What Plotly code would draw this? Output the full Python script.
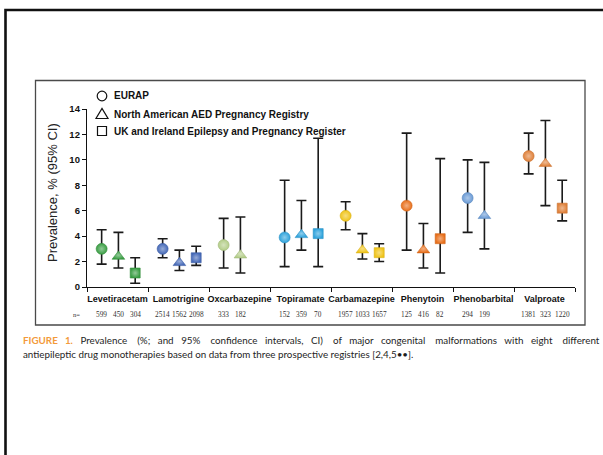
import plotly.graph_objects as go

# ---------------- data ----------------
drugs = ["Levetiracetam", "Lamotrigine", "Oxcarbazepine", "Topiramate",
         "Carbamazepine", "Phenytoin", "Phenobarbital", "Valproate"]

registries = ["EURAP", "North American AED Pregnancy Registry",
              "UK and Ireland Epilepsy and Pregnancy Register"]

eurap_prev = [3.0, 3.0, 3.3, 3.9, 5.6, 6.4, 7.0, 10.3]
eurap_lo = [1.8, 2.3, 1.5, 1.6, 4.5, 2.9, 4.3, 8.9]
eurap_hi = [4.5, 3.8, 5.4, 8.4, 6.7, 12.1, 10.0, 12.1]
eurap_n = [599, 2514, 333, 152, 1957, 125, 294, 1381]

naapr_prev = [2.4, 1.9, 2.5, 4.1, 2.9, 2.9, 5.6, 9.7]
naapr_lo = [1.5, 1.3, 1.1, 2.9, 2.2, 1.5, 3.0, 6.4]
naapr_hi = [4.3, 2.9, 5.5, 6.8, 4.2, 5.0, 9.8, 13.1]
naapr_n = [450, 1562, 182, 359, 1033, 416, 199, 323]

ukire_prev = [1.1, 2.3, None, 4.2, 2.7, 3.8, None, 6.2]
ukire_lo = [0.3, 1.7, None, 1.6, 2.0, 1.1, None, 5.2]
ukire_hi = [2.3, 3.2, None, 11.7, 3.4, 10.1, None, 8.4]
ukire_n = [304, 2098, None, 70, 1657, 82, None, 1220]

y_ticks = [0, 2, 4, 6, 8, 10, 12, 14]

caption_label = "FIGURE 1."
caption_line1 = ("Prevalence (%; and 95% confidence intervals, CI) of major congenital "
                 "malformations with eight different")
caption_line2 = ("antiepileptic drug monotherapies based on data from three prospective "
                 "registries [2,4,5\u2022\u2022].")

# ---------------- styles ----------------
drug_colors = ["#3a9e44", "#4569b8", "#b3cd88", "#2fa3dc",
               "#f0c419", "#e86f1a", "#6b9bd6", "#e0813a"]
symbols = ["circle", "triangle-up", "square"]
sizes = [11, 11, 10]
offsets = [-0.26, 0.015, 0.29]


def lighten(hex_color, f):
    h = hex_color.lstrip("#")
    r, g, b = (int(h[i:i + 2], 16) for i in (0, 2, 4))
    r = int(r + (255 - r) * f)
    g = int(g + (255 - g) * f)
    b = int(b + (255 - b) * f)
    return "#%02x%02x%02x" % (r, g, b)


def darken(hex_color, f):
    h = hex_color.lstrip("#")
    r, g, b = (int(h[i:i + 2], 16) for i in (0, 2, 4))
    return "#%02x%02x%02x" % (int(r * (1 - f)), int(g * (1 - f)), int(b * (1 - f)))


W, H = 603, 455
ML, MR, MT, MB = 87, 28, 109, 168
PW, PH = W - ML - MR, H - MT - MB


def xp(px):
    return (px - ML) / PW


def yp(py):
    return (H - MB - py) / PH


fig = go.Figure()

series = [(eurap_prev, eurap_lo, eurap_hi, eurap_n),
          (naapr_prev, naapr_lo, naapr_hi, naapr_n),
          (ukire_prev, ukire_lo, ukire_hi, ukire_n)]

annotations = []
for k, (prev, lo, hi, nn) in enumerate(series):
    xs, ys, ep, em, cols, grads, lines = [], [], [], [], [], [], []
    for i, v in enumerate(prev):
        if v is None:
            continue
        xs.append(i + offsets[k])
        ys.append(v)
        ep.append(hi[i] - v)
        em.append(v - lo[i])
        cols.append(drug_colors[i])
        grads.append(lighten(drug_colors[i], 0.45))
        lines.append(darken(drug_colors[i], 0.1))
        annotations.append(dict(x=i + offsets[k], xref="x", y=yp(314), yref="paper",
                                xanchor="center", yanchor="middle",
                                text=str(nn[i]), showarrow=False,
                                font=dict(family="Liberation Serif", size=7.3, color="#333")))
    fig.add_trace(go.Scatter(
        x=xs, y=ys, mode="markers", name=registries[k], showlegend=False,
        marker=dict(symbol=symbols[k], size=sizes[k], color=cols,
                    gradient=dict(type="radial", color=grads),
                    line=dict(width=0.6, color=lines)),
        error_y=dict(type="data", symmetric=False, array=ep, arrayminus=em,
                     color="#1a1a1a", thickness=1.6, width=5),
    ))

# n= label
annotations.append(dict(x=xp(76), xref="paper", y=yp(314), yref="paper", text="n=",
                        xanchor="center", yanchor="middle",
                        showarrow=False, font=dict(family="Liberation Serif", size=6.5, color="#333")))

# y-axis title
annotations.append(dict(x=xp(52), xref="paper", y=yp(193), yref="paper",
                        xanchor="center", yanchor="middle",
                        text="Prevalence, % (95% CI)", textangle=-90, showarrow=False,
                        font=dict(family="Liberation Sans", size=13, color="#222")))

# legend: symbol outlines drawn as shapes, texts as annotations
leg_y = [96, 114, 131]
leg_x = 102
for t, y in zip(registries, leg_y):
    annotations.append(dict(x=xp(112), xref="paper", y=yp(y), yref="paper", text=t,
                            showarrow=False, xanchor="left", yanchor="middle",
                            font=dict(family="Liberation Sans", size=10, color="#111",
                                      weight="bold")))

leg_line = dict(color="#111", width=1.2)
shapes = [
    # outer frame
    dict(type="rect", xref="paper", yref="paper", x0=xp(5.5), x1=xp(660),
         y0=yp(10), y1=yp(520), line=dict(color="#111", width=2.6)),
    # inner box
    dict(type="rect", xref="paper", yref="paper", x0=xp(35.5), x1=xp(585),
         y0=yp(80.5), y1=yp(325), line=dict(color="#4a4a4a", width=1.3)),
    # legend glyphs
    dict(type="circle", xref="paper", yref="paper",
         x0=xp(leg_x - 4.8), x1=xp(leg_x + 4.8), y0=yp(leg_y[0] - 4.8), y1=yp(leg_y[0] + 4.8),
         line=leg_line),
    dict(type="path", xref="paper", yref="paper",
         path="M %f,%f L %f,%f L %f,%f Z" % (xp(leg_x - 6), yp(leg_y[1] + 4.5),
                                             xp(leg_x + 6), yp(leg_y[1] + 4.5),
                                             xp(leg_x), yp(leg_y[1] - 5.5)),
         line=leg_line),
    dict(type="rect", xref="paper", yref="paper",
         x0=xp(leg_x - 4.5), x1=xp(leg_x + 4.5), y0=yp(leg_y[2] - 4.5), y1=yp(leg_y[2] + 4.5),
         line=leg_line),
]

# caption (first line stretched like the justified original)
words1 = [caption_label.split(" ")[0], caption_label.split(" ")[1]] + caption_line1.split(" ")
parts = []
for i, w in enumerate(words1):
    if i == 0:
        parts.append("<span style='color:#F39A3A'><b>" + w)
    elif i == 1:
        parts.append(w + "</b></span>")
    else:
        parts.append(w)
line1 = ""
for i, p in enumerate(parts):
    if i > 0:
        line1 += " " + "\u00a0" * (3 if i % 3 == 0 else 2)
    line1 += p

annotations.append(dict(
    x=xp(21), xref="paper", y=yp(340), yref="paper", xanchor="left", yanchor="middle",
    showarrow=False, align="left", text=line1,
    font=dict(family="Lato", size=9.8, color="#1e1e1e")))
annotations.append(dict(
    x=xp(21), xref="paper", y=yp(354), yref="paper", xanchor="left", yanchor="middle",
    showarrow=False, align="left", text=caption_line2,
    font=dict(family="Lato", size=9.8, color="#1e1e1e")))

fig.update_layout(
    width=W, height=H,
    margin=dict(l=ML, r=MR, t=MT, b=MB, pad=0),
    paper_bgcolor="white", plot_bgcolor="white",
    showlegend=False,
    annotations=annotations,
    shapes=shapes,
    xaxis=dict(range=[-0.5, 7.5], showgrid=False, zeroline=False,
               showline=True, linecolor="#111", linewidth=1.3,
               tickmode="array", tickvals=list(range(len(drugs))), ticktext=drugs,
               ticks="", ticklabelstandoff=3,
               tickfont=dict(family="Liberation Sans", size=9, color="#111", weight="bold"),
               minor=dict(tickmode="array", tickvals=[i - 0.5 for i in range(len(drugs) + 1)],
                          ticks="outside", ticklen=4, tickwidth=1.3, tickcolor="#111",
                          showgrid=False)),
    yaxis=dict(range=[0, 14], showgrid=False, zeroline=False,
               showline=True, linecolor="#111", linewidth=1.3,
               tickmode="array", tickvals=y_ticks, ticks="outside", ticklen=4,
               tickwidth=1.3, tickcolor="#111",
               tickfont=dict(family="Liberation Sans", size=9.5, color="#111", weight="bold")),
)

fig.write_html("out.html", config={"displayModeBar": False},
               post_script="document.body.style.margin='0';document.body.style.overflow='hidden';")
